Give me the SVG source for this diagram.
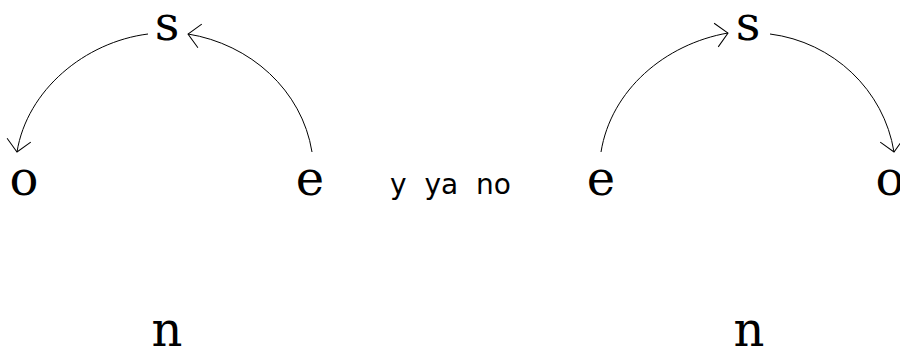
<svg xmlns="http://www.w3.org/2000/svg" width="900" height="351" viewBox="0 0 900 351">
<style>
.big{font-family:"DejaVu Serif","Liberation Serif",serif;font-size:48px;fill:#000;text-anchor:middle}
.small{font-family:"DejaVu Sans","Liberation Sans",sans-serif;font-size:28px;fill:#000;word-spacing:9px}
.arc{fill:none;stroke:#000;stroke-width:1}
</style>
<defs>
<marker id="arr" markerUnits="userSpaceOnUse" markerWidth="30" markerHeight="30" viewBox="-15 -15 30 30" refX="0" refY="0" orient="auto">
<path d="M-12,-12 L0,0 L-12,12" fill="none" stroke="#000" stroke-width="1"/>
</marker>
</defs>
<rect width="900" height="351" fill="#fff"/>
<g id="connectors">
<path class="arc" d="M148,34 C85,42 27,90 17,152" marker-end="url(#arr)"/>
<path class="arc" d="M312,152 C302,90 250,44 188,34" marker-end="url(#arr)"/>
<path class="arc" d="M601,152 C611,90 665,44 728,33" marker-end="url(#arr)"/>
<path class="arc" d="M770,34 C833,42 884,90 894,152" marker-end="url(#arr)"/>
</g>
<g id="s1"><text class="big" x="167" y="40">s</text></g>
<g id="o1"><text class="big" x="24" y="195">o</text></g>
<g id="e1"><text class="big" x="310" y="195">e</text></g>
<g id="n1"><text class="big" x="167" y="346">n</text></g>
<g id="label"><text class="small" x="390" y="194">y ya no</text></g>
<g id="e2"><text class="big" x="601" y="195">e</text></g>
<g id="s2"><text class="big" x="748" y="40">s</text></g>
<g id="o2"><text class="big" x="890" y="195">o</text></g>
<g id="n2"><text class="big" x="749" y="346">n</text></g>
</svg>
